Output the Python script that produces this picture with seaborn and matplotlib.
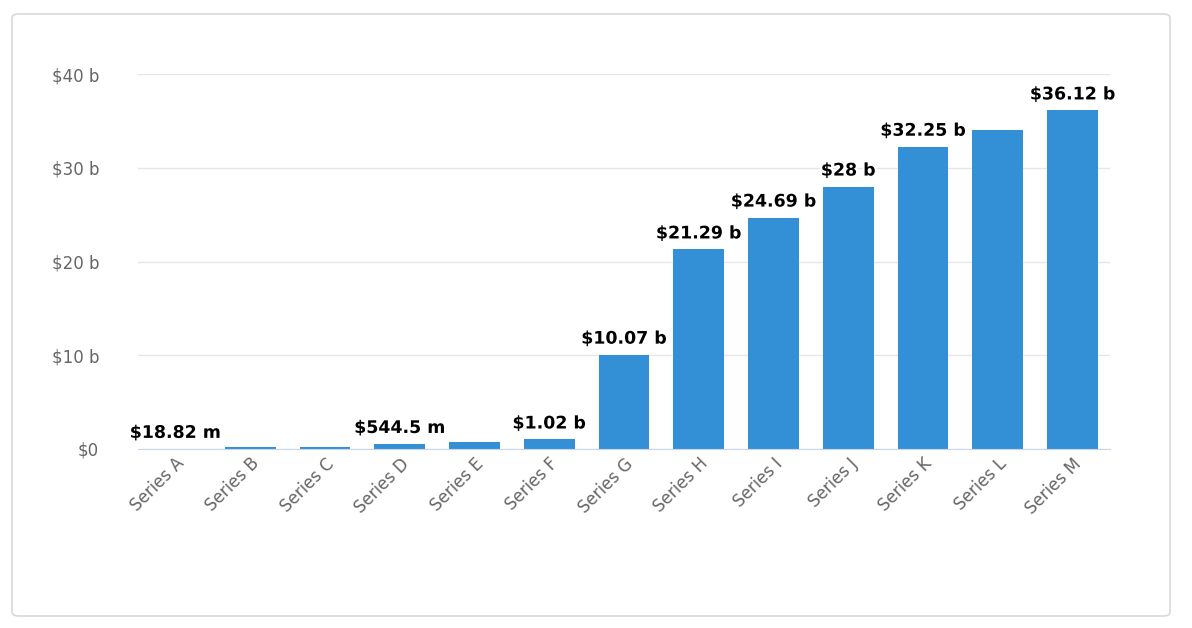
import matplotlib
matplotlib.use("Agg")
import matplotlib.pyplot as plt
import matplotlib.patheffects as pe
from matplotlib.patches import FancyBboxPatch
import seaborn as sns
import pandas as pd

categories = ["Series A","Series B","Series C","Series D","Series E","Series F","Series G",
              "Series H","Series I","Series J","Series K","Series L","Series M"]
values_b = [0.01882, 0.25, 0.2, 0.5445, 0.75, 1.02, 10.07, 21.29, 24.69, 28.0, 32.25, 34.0, 36.12]
labels = ["$18.82 m", None, None, "$544.5 m", None, "$1.02 b", "$10.07 b", "$21.29 b",
          "$24.69 b", "$28 b", "$32.25 b", None, "$36.12 b"]
yticks = [0, 10, 20, 30, 40]
ytick_labels = ["$0", "$10 b", "$20 b", "$30 b", "$40 b"]

df = pd.DataFrame({"cat": categories, "val": values_b})

fig = plt.figure(figsize=(11.92, 6.28), dpi=100)
fig.patches.append(FancyBboxPatch((12/1192, 12/628), 1158/1192, 602/628,
                                  boxstyle="round,pad=0,rounding_size=0.006",
                                  transform=fig.transFigure, fill=False,
                                  edgecolor="#d9d9d9", linewidth=1.2))
ax = fig.add_axes([138/1192, 1-449/628, (1110-138)/1192, (449-74)/628])
sns.barplot(data=df, x="cat", y="val", color="#3490d6", saturation=1, width=0.68, ax=ax)
ax.set_ylim(0, 40)
ax.set_xlim(-0.5, len(categories)-0.5)
ax.set_yticks(yticks)
ax.set_yticklabels(ytick_labels, color="#666666", fontsize=12)
ax.grid(axis="y", color="#e6e6e6", linewidth=1)
ax.set_axisbelow(True)
for s in ["top", "right", "left"]:
    ax.spines[s].set_visible(False)
ax.spines["bottom"].set_color("#ccd6eb")
ax.tick_params(axis="y", length=0, pad=28)
ax.tick_params(axis="x", length=0, pad=4)
ax.set_xlabel("")
ax.set_ylabel("")
plt.setp(ax.get_xticklabels(), rotation=45, ha="right", rotation_mode="anchor",
         color="#666666", fontsize=12)
for i, (v, lab) in enumerate(zip(values_b, labels)):
    if lab:
        ax.annotate(lab, (i, v), xytext=(0, 5), textcoords="offset points",
                    ha="center", va="bottom", fontsize=12.5, fontweight="bold", color="black",
                    path_effects=[pe.withStroke(linewidth=3, foreground="white")])
fig.savefig("out.png", dpi=100)
